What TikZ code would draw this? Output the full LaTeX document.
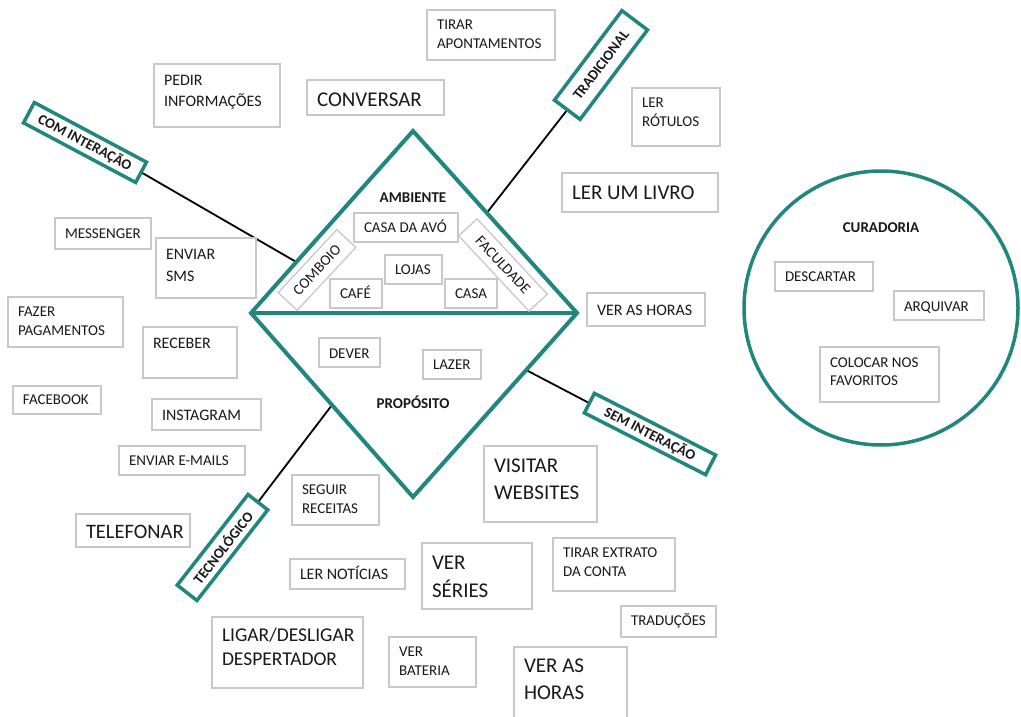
\documentclass[tikz,border=0pt]{standalone}
\usepackage{fontspec}
\setmainfont{Carlito}
\usetikzlibrary{calc}

\definecolor{frameteal}{RGB}{33,134,126}
\definecolor{boxgrey}{RGB}{200,200,200}
\definecolor{ink}{RGB}{25,25,25}

% font size and line pitch in one go
\newcommand{\sz}[2]{\fontsize{#1}{#2}\selectfont}

\tikzset{
  itembox/.style={draw=boxgrey, line width=1.3pt, fill=white, inner sep=0pt, outer sep=0pt, text=ink},
  itemtext/.style={inner sep=0pt, outer sep=0pt, text=ink},
  tag/.style={draw=frameteal, line width=3.5pt, fill=white, inner sep=0pt, text=ink,
              font=\sz{14.5}{17}\bfseries},
  heading/.style={inner sep=0pt, text=ink, font=\sz{15}{18}\bfseries},
  link/.style={draw=black, line width=1.8pt},
  rim/.style={draw=frameteal, line width=4pt, line join=miter},
}

% #1 name, #2-#5 box corners, #6 first baseline below the top edge,
% #7 font, #8 lines of text
\newcommand{\ibox}[8]{%
  \node[itembox, anchor=north west, minimum width={(#4)-(#2)}, minimum height={(#5)-(#3)}] (#1) at (#2,#3) {};
  \node[itemtext, anchor=base west] (#1-t) at ($(#1.north west)+(10,#6)$)
    {#7\begin{tabular}[t]{@{}l@{}}#8\end{tabular}};
}

\begin{document}
\begin{tikzpicture}[x=1pt, y=-1pt]
\useasboundingbox (0,0) rectangle (1021,717);
\fill[white] (0,0) rectangle (1021,717);

% the diamond: ambiente above, proposito below
\coordinate (dT) at (413,131);
\coordinate (dL) at (251,313);
\coordinate (dR) at (577,313);
\coordinate (dB) at (413,497);
\coordinate (aCI) at ($(dL)!0.28!(dT)$);
\coordinate (aTR) at ($(dT)!0.45!(dR)$);
\coordinate (aSI) at ($(dR)!0.31!(dB)$);
\coordinate (aTE) at ($(dL)!0.50!(dB)$);

% axis tags
\node[tag, rotate=-28, minimum width=127, minimum height=23] (cominter) at (85,142.5) {COM INTERAÇÃO};
\node[tag, rotate=53, minimum width=112, minimum height=32] (tradic) at (601,65) {TRADICIONAL};
\node[tag, rotate=-27, minimum width=136, minimum height=22] (seminter) at (650,434) {SEM INTERAÇÃO};
\node[tag, rotate=52, minimum width=115, minimum height=25] (tecno) at (222.5,547.5) {TECNOLÓGICO};

\draw[link] (cominter.east) -- (aCI);
\draw[link] (tradic.west) -- (aTR);
\draw[link] (seminter.west) -- (aSI);
\draw[link] (tecno.east) -- (aTE);

\draw[rim] (dL) -- (dT) -- (dR) -- (dB) -- cycle;
\draw[rim] (dL) -- (dR);

\node[heading] (ambiente) at (413,198) {AMBIENTE};
\node[heading] (proposito) at (413,402) {PROPÓSITO};

% inside the diamond
\ibox{avo}{354}{213}{458}{242}{19.1}{\sz{15}{19}}{CASA DA AVÓ}
\ibox{lojas}{385}{255}{442}{284}{19.8}{\sz{15}{19}}{LOJAS}
\ibox{cafe}{330}{279}{382}{308}{19.1}{\sz{15}{19}}{CAFÉ}
\ibox{casa}{445}{279}{497}{308}{19.1}{\sz{15}{19}}{CASA}
\ibox{dever}{319}{338}{380}{367}{20.1}{\sz{15}{19}}{DEVER}
\ibox{lazer}{423}{350}{481}{379}{19.8}{\sz{15}{19}}{LAZER}
\node[itembox, rotate=47, minimum width=86, minimum height=26, font=\sz{15}{18}] (comboio) at (317,270) {COMBOIO};
\node[itembox, rotate=-47, minimum width=103, minimum height=25, font=\sz{15}{18}] (faculdade) at (503,265) {FACULDADE};

% curadoria
\node[circle, draw=frameteal, line width=3.5pt, minimum size=274, inner sep=0pt] (curadoria) at (881,308) {};
\node[heading] (curadoria-t) at (881,228) {CURADORIA};
\ibox{descartar}{775}{262}{873}{291}{19.5}{\sz{15}{19}}{DESCARTAR}
\ibox{arquivar}{894}{291}{984}{320}{20.5}{\sz{15}{19}}{ARQUIVAR}
\ibox{favoritos}{820}{347}{939}{402}{20.8}{\sz{15}{18}}{COLOCAR NOS\\FAVORITOS}

% activities around the diamond
\ibox{tirar}{427}{10}{555}{60}{19.8}{\sz{15}{19}}{TIRAR\\APONTAMENTOS}
\ibox{pedir}{154}{64}{280}{127}{21.2}{\sz{16}{21}}{PEDIR\\INFORMAÇÕES}
\ibox{conv}{307}{80}{444}{115}{26.3}{\sz{21}{27}}{CONVERSAR}
\ibox{rotulos}{632}{88}{720}{146}{19.8}{\sz{15}{19}}{LER\\RÓTULOS}
\ibox{livro}{562}{173}{718}{212}{26.4}{\sz{21}{27}}{LER UM LIVRO}
\ibox{horas}{587}{293}{705}{326}{22.7}{\sz{16}{20}}{VER AS HORAS}
\ibox{messenger}{55}{218}{151}{249}{20}{\sz{15}{19}}{MESSENGER}
\ibox{sms}{156}{238}{256}{298}{21.2}{\sz{16}{22}}{ENVIAR\\SMS}
\ibox{pagam}{8}{297}{123}{347}{19.8}{\sz{15}{19}}{FAZER\\PAGAMENTOS}
\ibox{receber}{143}{327}{237}{378}{21.2}{\sz{16}{20}}{RECEBER}
\ibox{facebook}{13}{386}{101}{414}{18.8}{\sz{15}{19}}{FACEBOOK}
\ibox{insta}{152}{399}{261}{430}{21.2}{\sz{16}{20}}{INSTAGRAM}
\ibox{emails}{119}{446}{245}{475}{19.8}{\sz{15}{19}}{ENVIAR E-MAILS}
\ibox{telef}{76}{514}{190}{547}{24.4}{\sz{20.5}{26}}{TELEFONAR}
\ibox{receitas}{292}{475}{379}{525}{19.8}{\sz{15}{19}}{SEGUIR\\RECEITAS}
\ibox{noticias}{290}{559}{405}{589}{20.5}{\sz{16}{20}}{LER NOTÍCIAS}
\ibox{despert}{212}{617}{363}{688}{24.3}{\sz{19.5}{24}}{LIGAR/DESLIGAR\\DESPERTADOR}
\ibox{bateria}{389}{637}{476}{687}{19.8}{\sz{15}{19}}{VER\\BATERIA}
\ibox{series}{422}{543}{532}{609}{26.8}{\sz{21}{28}}{VER\\SÉRIES}
\ibox{websites}{484}{446}{597}{522}{26.8}{\sz{21}{27}}{VISITAR\\WEBSITES}
\ibox{extrato}{553}{538}{675}{591}{19.8}{\sz{15}{19}}{TIRAR EXTRATO\\DA CONTA}
\ibox{traducoes}{621}{606}{716}{637}{19.8}{\sz{15}{19}}{TRADUÇÕES}
\ibox{horasb}{514}{647}{627}{724}{25.8}{\sz{21}{27}}{VER AS\\HORAS}
\end{tikzpicture}
\end{document}
